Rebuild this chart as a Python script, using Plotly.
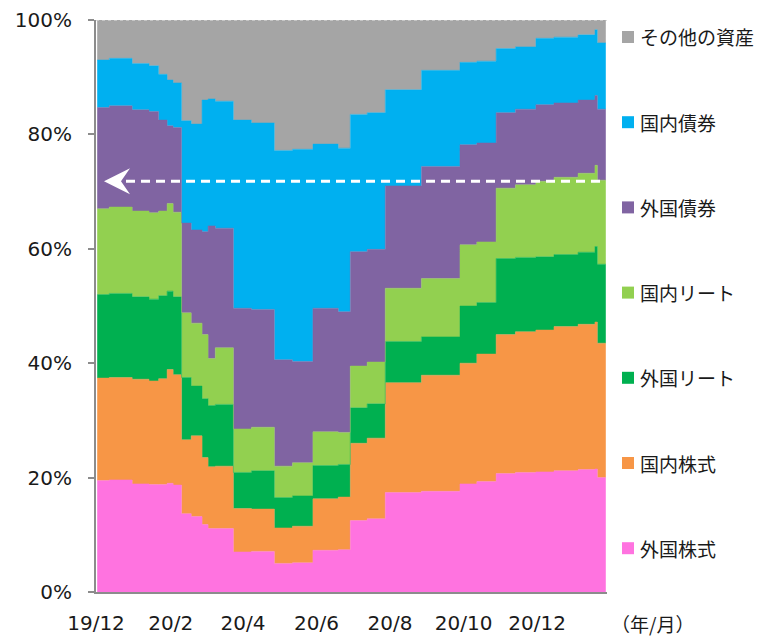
import plotly.graph_objects as go

# ---- data (share of each asset, %) ----
dates = ["2019-12-02", "2019-12-12", "2019-12-31", "2020-01-14", "2020-01-22", "2020-01-29",
         "2020-02-03", "2020-02-10", "2020-02-18", "2020-02-27", "2020-03-03", "2020-03-09",
         "2020-03-24", "2020-04-08", "2020-04-27", "2020-05-12", "2020-05-29", "2020-06-19",
         "2020-06-29", "2020-07-13", "2020-07-28", "2020-08-27", "2020-09-28", "2020-10-12",
         "2020-10-28", "2020-11-13", "2020-11-30", "2020-12-15", "2021-01-04", "2021-01-18",
         "2021-01-20", "2021-01-27"]

foreign_equity = [19.5, 19.6, 18.9, 18.8, 18.8, 19.0, 18.7, 13.7, 13.2, 11.8, 11.1, 11.1, 7.0, 7.1, 5.0, 5.1,
                  7.3, 7.4, 12.5, 12.8, 17.4, 17.6, 18.9, 19.3, 20.7, 20.9, 21.0, 21.2, 21.4, 21.5, 20.0, 20.0]
domestic_equity = [17.9, 17.9, 18.3, 18.1, 18.5, 19.9, 19.3, 12.9, 14.1, 11.7, 10.8, 10.9, 7.6, 7.4, 6.2, 6.4,
                   9.0, 9.2, 13.5, 14.1, 19.2, 20.3, 21.1, 22.3, 24.3, 24.6, 24.8, 25.2, 25.4, 25.7, 23.5, 23.5]
foreign_reit = [14.6, 14.7, 14.4, 14.3, 14.5, 13.7, 13.6, 10.9, 8.7, 10.3, 10.7, 10.8, 6.3, 6.7, 5.3, 5.3,
                5.8, 5.7, 6.2, 6.0, 7.2, 6.7, 10.0, 9.0, 13.3, 13.0, 12.8, 12.6, 12.6, 13.2, 13.8, 13.8]
domestic_reit = [15.0, 15.1, 15.0, 15.1, 14.8, 15.3, 14.8, 11.3, 11.0, 11.2, 8.2, 9.9, 7.6, 7.6, 5.5, 5.8,
                 5.9, 5.6, 7.3, 7.3, 9.3, 10.2, 10.7, 10.6, 12.3, 12.7, 13.2, 13.5, 13.8, 14.2, 14.7, 14.7]
foreign_bond = [17.7, 17.7, 17.7, 17.7, 15.9, 13.6, 14.8, 15.7, 16.3, 18.0, 23.2, 20.9, 21.1, 20.6, 18.6, 17.7,
                21.6, 21.1, 20.0, 19.7, 17.9, 19.6, 17.5, 17.3, 13.2, 13.2, 13.4, 13.0, 12.8, 12.2, 12.4, 12.4]
domestic_bond = [8.3, 8.3, 8.1, 8.0, 8.0, 8.0, 7.8, 17.9, 18.5, 23.0, 22.2, 22.2, 32.9, 32.6, 36.6, 37.1,
                 28.7, 28.6, 24.0, 23.9, 16.8, 16.8, 14.4, 14.3, 11.2, 10.9, 11.6, 11.5, 11.4, 11.5, 11.6, 11.6]
other_assets = [7.0, 6.7, 7.6, 8.0, 9.5, 10.5, 11.0, 17.6, 18.2, 14.0, 13.8, 14.2, 17.5, 18.0, 22.8, 22.6,
                21.7, 22.4, 16.5, 16.2, 12.2, 8.8, 7.4, 7.2, 5.0, 4.7, 3.2, 3.0, 2.6, 1.7, 4.0, 4.0]

series_names = ["外国株式", "国内株式", "外国リート", "国内リート", "外国債券", "国内債券", "その他の資産"]
series_values = [foreign_equity, domestic_equity, foreign_reit, domestic_reit,
                 foreign_bond, domestic_bond, other_assets]
series_colors = ["#FF73E0", "#F79646", "#00B050", "#92D050", "#8064A2", "#00B0F0", "#A5A5A5"]

tick_vals = ["2019-12-01", "2020-02-01", "2020-04-01", "2020-06-01", "2020-08-01", "2020-10-01", "2020-12-01"]
tick_text = ["19/12", "20/2", "20/4", "20/6", "20/8", "20/10", "20/12"]
y_ticks = [0, 20, 40, 60, 80, 100]
y_tick_text = ["0%", "20%", "40%", "60%", "80%", "100%"]
marker_level = 71.8

# ---- figure geometry (page has an 8px body margin) ----
OFF = 8
W, H = 762 - OFF, 636 - OFF
PLOT_TOP, PLOT_BOTTOM = 20, 592          # page pixels
ML, MT = 96 - OFF, PLOT_TOP - OFF
PW, PH = 511, PLOT_BOTTOM - PLOT_TOP
MR, MB = W - ML - PW, H - MT - PH

def px_x(px):  # page pixel -> paper x
    return (px - OFF - ML) / PW

def px_y(py):  # page pixel -> paper y
    return (MT + PH - (py - OFF)) / PH

fig = go.Figure()
for name, vals, col in zip(series_names, series_values, series_colors):
    fig.add_trace(go.Scatter(
        x=dates, y=vals, name=name, stackgroup="one", mode="lines",
        line=dict(color=col, width=0.5, shape="hv"), fillcolor=col,
        showlegend=False, hoverinfo="x+y+name"))

num_font = "DejaVu Sans, Verdana, sans-serif"
jp_font = "Noto Sans CJK JP, sans-serif"

fig.update_layout(
    width=W, height=H,
    margin=dict(l=ML, r=MR, t=MT, b=MB, pad=0, autoexpand=False),
    paper_bgcolor="white", plot_bgcolor="white",
    showlegend=False,
    font=dict(family=jp_font, color="#1a1a1a"),
    xaxis=dict(type="date", range=["2019-12-01", "2021-01-28"],
               tickmode="array", tickvals=tick_vals, ticktext=tick_text,
               showgrid=False, zeroline=False, showline=True, automargin=False,
               linecolor="#8C8C8C", linewidth=2, ticks="",
               ticklabeloverflow="allow",
               tickfont=dict(family=num_font, size=20, color="#1a1a1a"),
               ticklabelstandoff=12),
    yaxis=dict(range=[0, 100], tickmode="array", tickvals=y_ticks, ticktext=y_tick_text,
               showgrid=False, zeroline=False, showline=True, automargin=False,
               linecolor="#8C8C8C", linewidth=2, ticks="outside", ticklen=6,
               tickcolor="#8C8C8C", tickwidth=2,
               ticklabeloverflow="allow",
               tickfont=dict(family=num_font, size=20, color="#1a1a1a"),
               ticklabelstandoff=12),
)

# top dashed border at 100%
fig.add_shape(type="line", xref="paper", yref="y", x0=0, x1=1, y0=100, y1=100,
              line=dict(color="#D0D0D0", width=1.5, dash="dot"), layer="above")

# white dashed arrow
fig.add_shape(type="line", xref="paper", yref="y", x0=px_x(126), x1=px_x(603),
              y0=marker_level, y1=marker_level,
              line=dict(color="white", width=3, dash="9px,6px"), layer="above")
dy = 13 / (PH / 100)
fig.add_shape(type="path", xref="paper", yref="y",
              path=(f"M {px_x(104)},{marker_level} L {px_x(130)},{marker_level + dy} "
                    f"L {px_x(121)},{marker_level} L {px_x(130)},{marker_level - dy} Z"),
              fillcolor="white", line=dict(width=0), layer="above")

# unit label
fig.add_annotation(text="（年/月）", xref="paper", yref="paper", x=px_x(652), y=px_y(623),
                   xanchor="center", yanchor="middle", showarrow=False,
                   font=dict(family=jp_font, size=19, color="#1a1a1a"))

# legend (top to bottom)
for i, idx in enumerate(range(len(series_names) - 1, -1, -1)):
    cy = 37 + i * 85.2
    fig.add_shape(type="rect", xref="paper", yref="paper",
                  x0=px_x(622), x1=px_x(634), y0=px_y(cy + 6), y1=px_y(cy - 6),
                  fillcolor=series_colors[idx], line=dict(width=0))
    fig.add_annotation(text=series_names[idx], xref="paper", yref="paper",
                       x=px_x(638), y=px_y(cy), xanchor="left", yanchor="middle",
                       showarrow=False,
                       font=dict(family=jp_font, size=19, color="#1a1a1a"))

fig.write_html("out.html")
